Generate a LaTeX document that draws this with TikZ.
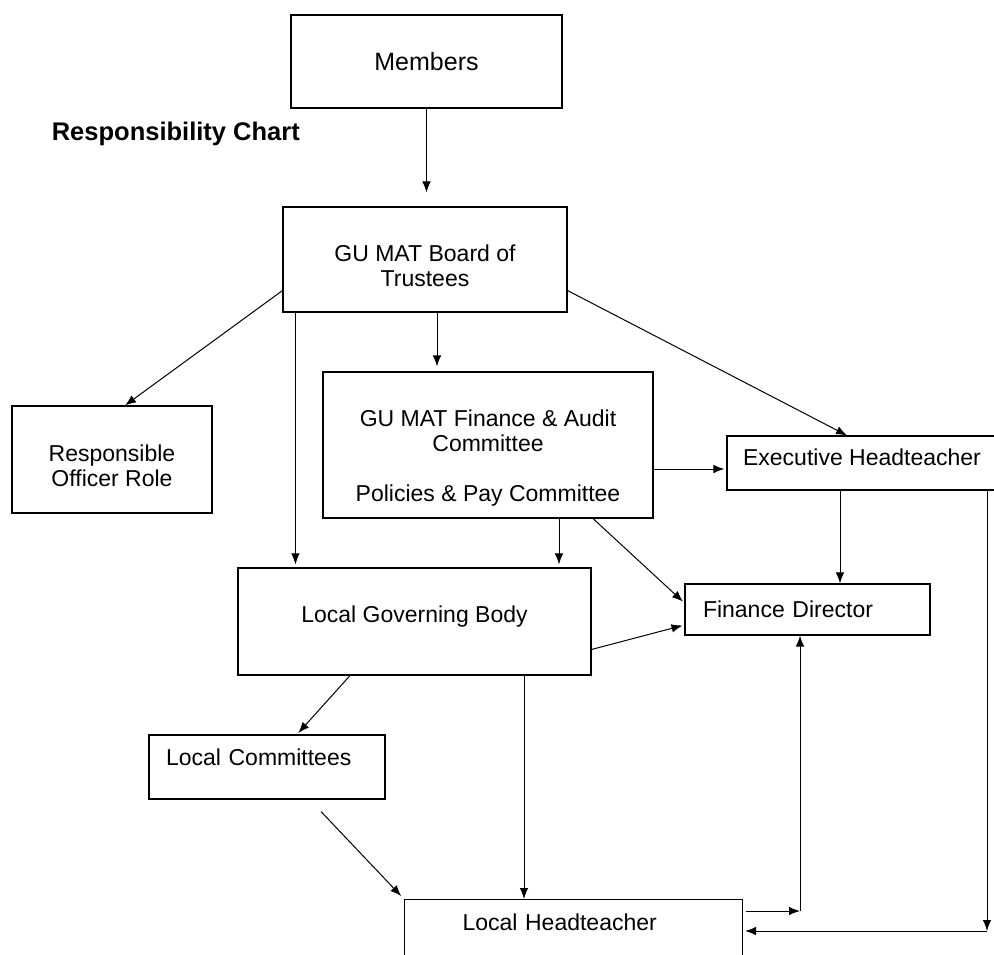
\documentclass[tikz,border=0pt]{standalone}
\usepackage{fontspec}
\setmainfont{Liberation Sans}
\usepackage{tikz}
\usetikzlibrary{arrows.meta}

\newcommand\boxfont{\fontsize{23}{25}\selectfont}
\newcommand\memfont{\fontsize{25}{28}\selectfont}
\newcommand\titlefont{\fontsize{25.5}{28}\selectfont\bfseries}

\tikzset{
  box/.style={draw, line width=1.1pt, inner sep=0pt, align=center, font=\boxfont},
  lbox/.style={box, align=left, inner ysep=0pt}
}

\begin{document}
\begin{tikzpicture}[->, >={Latex[length=11pt,width=8.5pt]}, x=1pt, y=-1pt, line width=1pt]
  \useasboundingbox (0,0) rectangle (994,955);

  \node[box, font=\memfont, minimum width=271pt, minimum height=93pt] (M)   at (426.5,61.5) {Members};
  \node[font=\titlefont, anchor=base west]                            (T)   at (48,141)     {Responsibility Chart};
  \node[box, minimum width=284pt, minimum height=105pt]               (BT)  at (425,259.5)  {\rule{0pt}{30pt}GU MAT Board of\\Trustees};
  \node[box, minimum width=200pt, minimum height=107pt]               (RO)  at (112,459.5)  {\rule{0pt}{30pt}Responsible\\Officer Role};
  \node[box, minimum width=330pt, minimum height=146pt]               (FA)  at (488,445)    {\rule{0pt}{43pt}GU MAT Finance \& Audit\\Committee\\[25pt]Policies \& Pay Committee};
  \node[box, minimum width=270pt, minimum height=54pt]                (EH)  at (862,463)    {Executive Headteacher\rule[-12pt]{0pt}{0pt}};
  \node[lbox, inner xsep=18pt, text width=209pt, minimum height=51pt] (FD)  at (807.5,609.5) {Finance Director};
  \node[box, minimum width=353pt, minimum height=107pt]               (LGB) at (414.5,621.5) {Local Governing Body\rule[-15pt]{0pt}{0pt}};
  \node[lbox, inner xsep=17pt, text width=202pt, minimum height=64pt] (LC)  at (267,767)    {Local Committees\rule[-20pt]{0pt}{0pt}};
  \node[lbox, inner xsep=58pt, text width=222pt, minimum height=100pt, anchor=north] (LH) at (573.5,899) {Local Headteacher\rule[-54pt]{0pt}{0pt}};

  \coordinate (bl)  at ([xshift=13pt]BT.south west);
  \coordinate (bf)  at ([xshift=12pt]BT.south);
  \coordinate (fe)  at ([yshift=-6pt]EH.west);
  \coordinate (fl)  at ([xshift=71pt]FA.south);
  \coordinate (ef)  at ([xshift=-22pt]EH.south);
  \coordinate (lh)  at ([xshift=109.5pt]LGB.south);
  \coordinate (lf)  at ([yshift=-12pt]LH.north east);
  \coordinate (lfc) at ([xshift=-7.5pt]FD.south);
  \coordinate (el)  at ([xshift=125pt]EH.south);
  \coordinate (elc) at ([yshift=-32pt]LH.north east);

  \path (M.south)                     edge [shorten >=14pt] (M.south |- BT.north)
        ([yshift=22pt]BT.south west)  edge                  ([xshift=13pt]RO.north)
        (bl)                          edge [shorten >=3pt]  (bl |- LGB.north)
        (bf)                          edge [shorten >=5pt]  (bf |- FA.north)
        ([yshift=22pt]BT.south east)  edge                  ([xshift=-15pt]EH.north)
        (fe -| FA.east)               edge [shorten >=2pt]  (fe)
        (fl)                          edge [shorten >=3pt]  (fl |- LGB.north)
        ([xshift=105pt]FA.south)      edge [shorten >=2pt]  ([yshift=6.5pt]FD.west)
        ([yshift=-28pt]LGB.east)      edge [shorten >=2pt]  ([yshift=-15.5pt]FD.west)
        (ef)                          edge                  (ef |- FD.north)
        ([xshift=-64.5pt]LGB.south)   edge [shorten >=2pt]  ([xshift=30pt]LC.north)
        ([xshift=54pt,yshift=-12pt]LC.south) edge [shorten >=4pt] (LH.north west)
        (lh)                          edge                  (lh |- LH.north)
        (lf)                          edge [shorten <=3pt]  (lfc |- lf)
        (lfc |- lf)                   edge                  (lfc)
        (el)                          edge                  (el |- elc)
        (el |- elc)                   edge [shorten >=2pt]  (elc)
        ;
\end{tikzpicture}
\end{document}
